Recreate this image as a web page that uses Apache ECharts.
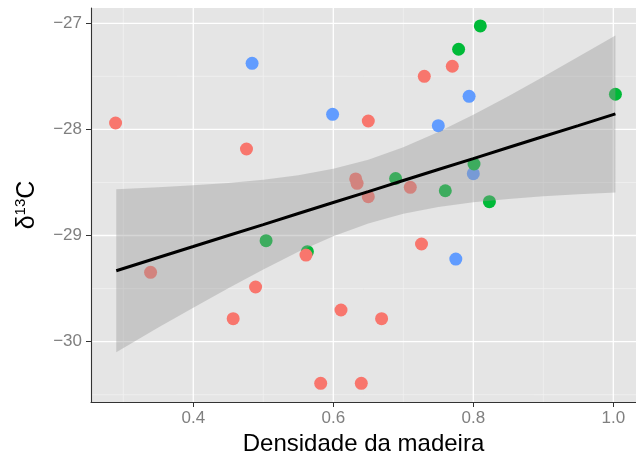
<!DOCTYPE html>
<html>
<head>
<meta charset="utf-8">
<script src="https://cdn.jsdelivr.net/npm/echarts@6/dist/echarts.min.js"></script>
<style>
  html, body { margin: 0; padding: 0; background: #ffffff; }
  #chart { width: 636px; height: 455px; }
</style>
</head>
<body>
<div id="chart"></div>
<script>
// Wood density vs. carbon isotope ratio, three groups plus linear fit with 95% band
const redX   = [0.289, 0.476, 0.770, 0.730, 0.650, 0.632, 0.634, 0.710, 0.650, 0.561, 0.339, 0.489, 0.457, 0.582, 0.726, 0.611, 0.669, 0.640];
const redY   = [-27.94, -28.185, -27.405, -27.50, -27.921, -28.467, -28.508, -28.546, -28.634, -29.184, -29.347, -29.485, -29.784, -30.393, -29.080, -29.702, -29.784, -30.393];
const greenX = [0.810, 0.779, 1.003, 0.801, 0.689, 0.760, 0.823, 0.504, 0.563];
const greenY = [-27.025, -27.245, -27.669, -28.326, -28.463, -28.578, -28.681, -29.049, -29.152];
const blueX  = [0.484, 0.794, 0.599, 0.750, 0.800, 0.775];
const blueY  = [-27.377, -27.688, -27.858, -27.965, -28.417, -29.222];

// Fitted line and confidence band
const fitX    = [0.29, 0.35, 0.40, 0.45, 0.50, 0.55, 0.60, 0.65, 0.70, 0.75, 0.80, 0.85, 0.90, 0.95, 1.003];
const fitY    = [-29.332, -29.207, -29.104, -29.000, -28.897, -28.793, -28.689, -28.586, -28.482, -28.378, -28.275, -28.171, -28.067, -27.964, -27.854];
const ciUpper = [-28.565, -28.546, -28.527, -28.504, -28.474, -28.432, -28.371, -28.286, -28.169, -28.025, -27.863, -27.687, -27.504, -27.316, -27.115];
const ciLower = [-30.099, -29.868, -29.681, -29.496, -29.320, -29.154, -29.007, -28.886, -28.795, -28.731, -28.687, -28.655, -28.630, -28.612, -28.594];

// Axis breaks
const xBreaks      = [0.4, 0.6, 0.8, 1.0];
const xMinorBreaks = [0.3, 0.5, 0.7, 0.9];
const yBreaks      = [-30, -29, -28, -27];
const yMinorBreaks = [-30.5, -29.5, -28.5, -27.5];

const X_MIN = 0.2539, X_MAX = 1.0324;
const Y_MIN = -30.569, Y_MAX = -26.856;

const FONT = '"Liberation Sans", Arial, Helvetica, sans-serif';
const zip = (xs, ys) => xs.map((x, i) => [x, ys[i]]);

function gridLines(values, dim, width, color) {
  return {
    type: 'custom',
    silent: true,
    z: 0,
    data: values.map(v => [v]),
    renderItem(params, api) {
      const cs = params.coordSys;
      const v = api.value(0);
      let shape;
      if (dim === 'x') {
        const px = api.coord([v, Y_MIN])[0];
        shape = { x1: px, y1: cs.y, x2: px, y2: cs.y + cs.height };
      } else {
        const py = api.coord([X_MIN, v])[1];
        shape = { x1: cs.x, y1: py, x2: cs.x + cs.width, y2: py };
      }
      return { type: 'line', shape, style: { stroke: color, lineWidth: width } };
    }
  };
}

function scatter(name, xs, ys, color) {
  return {
    type: 'scatter', name, z: 2,
    symbolSize: 13,
    itemStyle: { color, opacity: 1 },
    data: zip(xs, ys)
  };
}

const chart = echarts.init(document.getElementById('chart'), null, { renderer: 'canvas' });

chart.setOption({
  animation: false,
  backgroundColor: '#ffffff',
  grid: {
    left: 91, right: 0, top: 8, bottom: 53,
    outerBoundsMode: 'none', containLabel: false,
    show: true, backgroundColor: '#E5E5E5', borderWidth: 0
  },
  xAxis: {
    type: 'value', min: X_MIN, max: X_MAX,
    splitLine: { show: false },
    axisLine: { onZero: false, lineStyle: { color: '#333333', width: 1.1 } },
    axisTick: { customValues: xBreaks, length: 5, lineStyle: { color: '#333333' } },
    axisLabel: {
      customValues: xBreaks, formatter: v => v.toFixed(1),
      color: '#7F7F7F', fontSize: 17, margin: 8, fontFamily: FONT
    },
    name: 'Densidade da madeira', nameLocation: 'middle', nameGap: 24,
    nameTextStyle: { fontSize: 24, color: '#000000', fontFamily: FONT }
  },
  yAxis: {
    type: 'value', min: Y_MIN, max: Y_MAX,
    splitLine: { show: false },
    axisLine: { onZero: false, lineStyle: { color: '#333333', width: 1.1 } },
    axisTick: { customValues: yBreaks, length: 5, lineStyle: { color: '#333333' } },
    axisLabel: {
      customValues: yBreaks, formatter: v => String(v).replace('-', '\u2212'),
      color: '#7F7F7F', fontSize: 17, margin: 9, fontFamily: FONT
    },
    name: '{d|δ}{s|13}{d|C}', nameLocation: 'middle', nameGap: 50, nameRotate: 90,
    nameTextStyle: {
      color: '#000000', fontFamily: FONT,
      rich: {
        d: { fontSize: 25, lineHeight: 28, color: '#000000', fontFamily: FONT },
        s: { fontSize: 15, lineHeight: 15, color: '#000000', fontFamily: FONT, verticalAlign: 'top' }
      }
    }
  },
  series: [
    gridLines(xMinorBreaks, 'x', 0.7, '#F2F2F2'),
    gridLines(yMinorBreaks, 'y', 0.7, '#F2F2F2'),
    gridLines(xBreaks, 'x', 1.3, '#FFFFFF'),
    gridLines(yBreaks, 'y', 1.3, '#FFFFFF'),
    scatter('b', blueX, blueY, '#619CFF'),
    scatter('g', greenX, greenY, '#00BA38'),
    scatter('r', redX, redY, '#F8766D'),
    {
      // confidence band polygon
      type: 'custom', silent: true, z: 3,
      data: [[fitX[0], fitY[0]]],
      renderItem(params, api) {
        const top = fitX.map((x, i) => api.coord([x, ciUpper[i]]));
        const bottom = fitX.map((x, i) => api.coord([x, ciLower[i]])).reverse();
        return {
          type: 'polygon',
          shape: { points: top.concat(bottom) },
          style: { fill: 'rgba(153,153,153,0.4)' }
        };
      }
    },
    {
      type: 'line', z: 4, silent: true,
      data: zip(fitX, fitY),
      showSymbol: false, symbol: 'none',
      lineStyle: { color: '#000000', width: 3 }
    }
  ]
});
</script>
</body>
</html>
